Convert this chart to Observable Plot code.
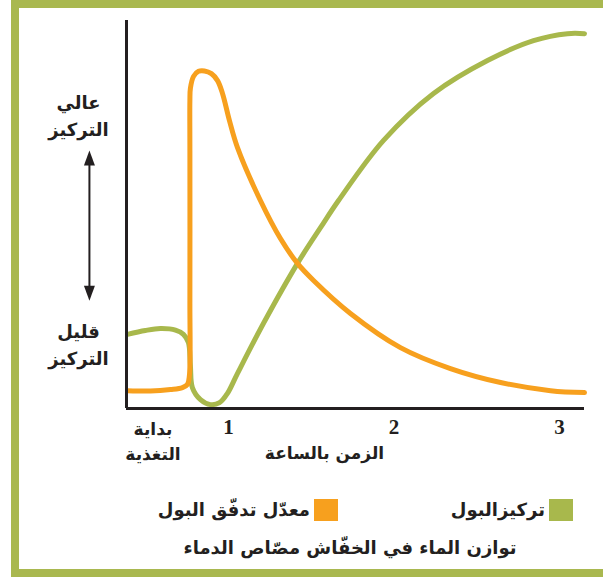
<!DOCTYPE html>
<html lang="ar">
<head>
<meta charset="utf-8">
<script src="https://cdn.jsdelivr.net/npm/d3@7"></script>
<script src="https://cdn.jsdelivr.net/npm/@observablehq/plot@0.6"></script>
<style>
  html, body { margin: 0; padding: 0; background: #fff; }
  #wrap { position: relative; width: 603px; height: 577px; overflow: hidden;
          font-family: "DejaVu Sans", sans-serif; color: #231F20; }
  #frame { position: absolute; left: 11px; top: 0; width: 640px; height: 577px;
           box-sizing: border-box; border: 8px solid #A9B84F; }
  #chart { position: absolute; left: 0; top: 0; }
  .item { position: absolute; top: 499px; display: flex; direction: rtl;
          align-items: center; gap: 4px; font-weight: bold; font-size: 18px; line-height: 22px; }
  .sw { display: inline-block; width: 24px; height: 22px; }
  #title { position: absolute; left: 150px; width: 400px; top: 536px; text-align: center;
           direction: rtl; font-weight: bold; font-size: 18px; line-height: 24px; }
</style>
</head>
<body>
<div id="wrap">
  <div id="frame"></div>
  <div id="chart"></div>
  <div id="legend"></div>
  <div id="title"></div>
</div>
<script>
// ---- data ----
const flowHours = [0.39, 0.529, 0.65, 0.722, 0.752, 0.764, 0.767, 0.767, 0.767, 0.770, 0.789, 0.819, 0.855, 0.897, 0.934, 0.964, 1.006, 1.054, 1.193, 1.314, 1.417, 1.514, 1.737, 2.039, 2.341, 2.644, 2.946, 3.151];
const flowLevel = [4.6, 4.5, 4.9, 5.4, 6.2, 8.5, 27.8, 66.5, 79.4, 82.5, 85.6, 86.9, 87.0, 86.3, 84.5, 81.2, 74.2, 67.3, 53.6, 43.8, 37.4, 33.0, 24.5, 15.7, 10.3, 6.7, 4.6, 4.1];

const concHours = [0.39, 0.498, 0.589, 0.680, 0.728, 0.758, 0.770, 0.782, 0.831, 0.891, 0.946, 0.994, 1.054, 1.211, 1.417, 1.556, 1.665, 1.937, 2.239, 2.565, 2.843, 3.048, 3.151];
const concLevel = [19.1, 20.1, 20.6, 20.2, 19.1, 17.0, 11.1, 5.4, 2.3, 1.0, 1.5, 3.9, 9.0, 21.9, 37.4, 46.6, 53.6, 69.1, 81.2, 89.7, 94.8, 96.6, 96.6];

const xTickValues = [1, 2, 3];
const feedingStartHour = 0.544;
const feedingStartLabel = "بداية\nالتغذية";
const xAxisLabel = "الزمن بالساعة";
const yLabels = ["عالي\nالتركيز", "قليل\nالتركيز"];
const yLabelLevels = [76.0, 17.0];
const arrowLevels = [27.8, 66.5];

const seriesNames = ["تركيزالبول", "معدّل تدفّق البول"];
const seriesColors = ["#A8B84C", "#F7A01E"];
const chartTitle = "توازن الماء في الخفّاش مصّاص الدماء";

// ---- build tables ----
const flow = flowHours.map((t, i) => ({t, v: flowLevel[i]}));
const conc = concHours.map((t, i) => ({t, v: concLevel[i]}));
const yLab = yLabels.map((label, i) => ({label, level: yLabelLevels[i]}));

const ink = "#231F20";
const xMin = 0.384, xMax = 3.151;
const labelHour = 0.094, arrowHour = 0.160;

const chart = Plot.plot({
  width: 603, height: 475,
  marginLeft: 126, marginRight: 19, marginTop: 20, marginBottom: 67,
  x: {domain: [xMin, xMax], axis: null},
  y: {domain: [0, 100], axis: null},
  style: {fontFamily: "'DejaVu Sans', sans-serif", color: ink, background: "transparent", overflow: "visible"},
  marks: [
    Plot.line(conc, {x: "t", y: "v", curve: "catmull-rom", stroke: seriesColors[0], strokeWidth: 5}),
    Plot.line(flow, {x: "t", y: "v", curve: "catmull-rom", stroke: seriesColors[1], strokeWidth: 5}),
    Plot.ruleX([xMin], {stroke: ink, strokeWidth: 3}),
    Plot.ruleY([0], {stroke: ink, strokeWidth: 3}),
    // x tick labels
    Plot.text(xTickValues, {x: d => d, frameAnchor: "bottom", dy: 19, lineAnchor: "middle",
      text: d => String(d), fontFamily: "'Liberation Serif', serif", fontWeight: "bold", fontSize: 21, fill: ink}),
    Plot.text([feedingStartLabel], {x: feedingStartHour, frameAnchor: "bottom", dy: 31, lineAnchor: "middle",
      text: d => d, fontWeight: "bold", fontSize: 17, lineHeight: 1.45, fill: ink}),
    Plot.text([xAxisLabel], {x: 1.58, frameAnchor: "bottom", dy: 45, lineAnchor: "middle",
      text: d => d, fontWeight: "bold", fontSize: 17, fill: ink}),
    // y qualitative labels
    Plot.text(yLab, {x: labelHour, y: "level", text: "label", lineAnchor: "middle",
      fontWeight: "bold", fontSize: 18, lineHeight: 1.5, fill: ink}),
    // double arrow
    Plot.link([arrowLevels], {x1: arrowHour, x2: arrowHour, y1: d => d[0] + 2.5, y2: d => d[1] - 2.5, stroke: ink, strokeWidth: 2}),
    Plot.vector([arrowLevels[1]], {x: arrowHour, y: d => d, shape: "spike", anchor: "end", rotate: 0, length: 15, r: 5.5, fill: ink, stroke: "none"}),
    Plot.vector([arrowLevels[0]], {x: arrowHour, y: d => d, shape: "spike", anchor: "end", rotate: 180, length: 15, r: 5.5, fill: ink, stroke: "none"})
  ]
});
document.getElementById("chart").appendChild(chart);

// ---- legend ----
const legend = document.getElementById("legend");
const legendRight = [30, 265];
seriesNames.forEach((name, i) => {
  const item = document.createElement("div");
  item.className = "item";
  item.style.right = legendRight[i] + "px";
  const sw = document.createElement("span");
  sw.className = "sw";
  sw.style.background = seriesColors[i];
  const tx = document.createElement("span");
  tx.textContent = name;
  item.appendChild(sw);
  item.appendChild(tx);
  legend.appendChild(item);
});
document.getElementById("title").textContent = chartTitle;
</script>
</body>
</html>
